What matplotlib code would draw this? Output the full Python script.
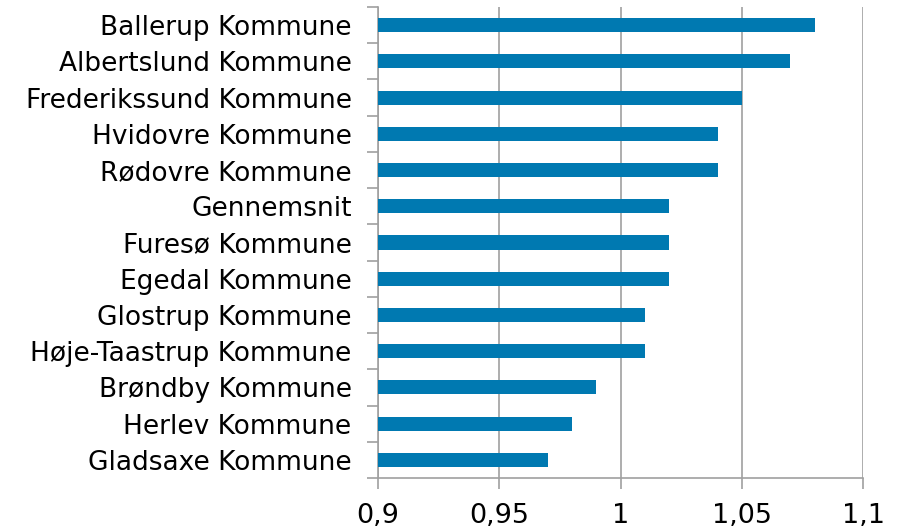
import matplotlib
matplotlib.use('Agg')
import matplotlib.pyplot as plt

# data, top to bottom as in the chart
kommuner = ['Ballerup Kommune', 'Albertslund Kommune', 'Frederikssund Kommune',
            'Hvidovre Kommune', 'Rødovre Kommune', 'Gennemsnit',
            'Furesø Kommune', 'Egedal Kommune', 'Glostrup Kommune',
            'Høje-Taastrup Kommune', 'Brøndby Kommune', 'Herlev Kommune',
            'Gladsaxe Kommune']
values = [1.08, 1.07, 1.05, 1.04, 1.04, 1.02, 1.02, 1.02, 1.01, 1.01,
          0.99, 0.98, 0.97]
xticks = [0.9, 0.95, 1.0, 1.05, 1.1]
xtick_labels = ['0,9', '0,95', '1', '1,05', '1,1']

bar_color = '#0079B1'
grid_color = '#A0A0A0'

fig = plt.figure(figsize=(9, 5.28), dpi=100)
ax = fig.add_axes([0.42, 0.0947, 0.539, 0.892])

pos = list(range(len(kommuner)))
ax.barh(pos, [v - 0.9 for v in values], left=0.9, height=0.39,
        color=bar_color, zorder=3)

ax.set_xlim(0.9, 1.1)
ax.set_ylim(len(kommuner) - 0.5, -0.5)
ax.set_xticks(xticks)
ax.set_xticklabels(xtick_labels)
ax.set_yticks(pos)
ax.set_yticklabels(kommuner)
# tick marks sit between categories
ax.set_yticks([p + 0.5 for p in range(-1, len(kommuner))], minor=True)
ax.tick_params(axis='y', which='major', length=0, pad=19, labelsize=19)
ax.tick_params(axis='y', which='minor', length=8, width=1.2, color=grid_color)
ax.tick_params(axis='x', length=8, width=1.2, color=grid_color, labelsize=19.5,
               pad=10)

ax.grid(axis='x', color=grid_color, linewidth=1.2, zorder=0)
for side in ['top', 'right']:
    ax.spines[side].set_visible(False)
for side in ['left', 'bottom']:
    ax.spines[side].set_color(grid_color)
    ax.spines[side].set_linewidth(1.2)

fig.savefig('out.png', dpi=100)
